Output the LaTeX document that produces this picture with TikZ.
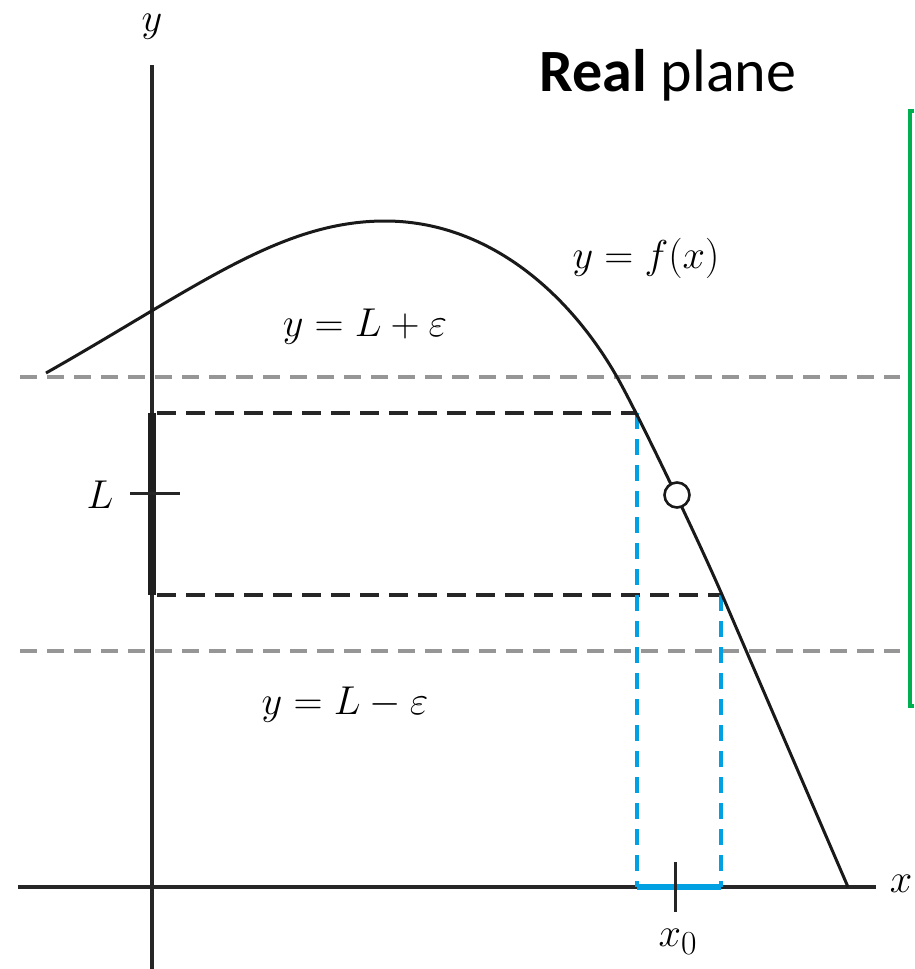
\documentclass[tikz,border=0pt]{standalone}
\usepackage{fontspec}
\newfontfamily\carlito{Carlito}
\definecolor{dgray}{RGB}{150,150,150}
\definecolor{ablue}{RGB}{0,160,227}
\definecolor{bgreen}{RGB}{0,176,80}
\newcommand{\mlab}[1]{\scalebox{1.62}{\Huge #1}}
\tikzset{
  axisline/.style={line width=3.4pt, black!85},
  curveline/.style={line width=3pt, black!90, line join=round},
  graydash/.style={line width=3.4pt, dgray, dash pattern=on 17pt off 10pt},
  blackdash/.style={line width=3.2pt, black!85, dash pattern=on 19pt off 10pt},
  bluedash/.style={line width=3.2pt, ablue, dash pattern=on 16pt off 10pt},
  mathlab/.style={inner sep=0pt},
  tickline/.style={line width=3pt, black!85},
}
\begin{document}
\begin{tikzpicture}[x=1pt,y=-1pt]
\useasboundingbox (0,0) rectangle (914,969);
% coordinates
\coordinate (yb) at (152,969);
\coordinate (yt) at (152,65);
\coordinate (xl) at (18,887);
\coordinate (xr) at (876,887);
\coordinate (gu1) at (20,377);
\coordinate (gu2) at (900,377);
\coordinate (gl1) at (20,651);
\coordinate (gl2) at (900,651);
\coordinate (Ltop) at (152,413);
\coordinate (Lbot) at (152,595);
\coordinate (ptop) at (637,413);
\coordinate (pbot) at (721,595);
\coordinate (atop) at (637,887);
\coordinate (abot) at (721,887);
\coordinate (Lt1) at (130,493);
\coordinate (Lt2) at (180,493);
\coordinate (x0a) at (675,862);
\coordinate (x0b) at (675,912);
\coordinate (gb1) at (914,111);
\coordinate (gb2) at (910,111);
\coordinate (gb3) at (910,706);
\coordinate (gb4) at (914,706);
\coordinate (c0) at (46,373);
\coordinate (c1) at (385,221);
\coordinate (c2) at (617,377);
\coordinate (c3) at (723,597);
\coordinate (c4) at (848,887);

% gray epsilon band lines
\draw[graydash] (gu1) -- (gu2);
\draw[graydash] (gl1) -- (gl2);

% axes
\draw[axisline] (yb) -- (yt);
\draw[axisline] (xl) -- (xr);

% black dashed rectangle sides
\draw[blackdash] ([xshift=5pt]Ltop) -- (ptop);
\draw[blackdash] ([xshift=5pt]Lbot) -- (pbot);

% blue dashed verticals
\draw[bluedash] (ptop) -- (atop);
\draw[bluedash] (pbot) -- (abot);

% blue interval on x axis
\draw[line width=6.5pt, ablue] (atop) -- (abot);

% thick L interval
\draw[line width=8pt, black!88] (Ltop) -- (Lbot);
\draw[tickline] (Lt1) -- (Lt2);
\draw[tickline] (x0a) -- (x0b);

% curve
\draw[curveline] (c0) .. controls (196,288) and (280,221) .. (c1)
  .. controls (485,221) and (567,289.5) .. (c2)
  .. controls (637,412) and (698,539) .. (c3) -- (c4);

% hole
\node[circle, draw=black!90, line width=2.6pt, fill=white, minimum size=25pt, inner sep=0pt] (hole) at (677,495) {};

% labels
\node[mathlab] (ylab) at (152,27) {\mlab{$y$}};
\node[mathlab] (xlab) at (901,884) {\mlab{$x$}};
\node[mathlab] (Llab) at (100,495) {\mlab{$L$}};
\node[mathlab] (x0lab) at (678,942) {\mlab{$x_0$}};
\node[mathlab] (flab) at (646,258) {\mlab{$y=f(x)$}};
\node[mathlab] (uplab) at (365,327) {\mlab{$y=L+\varepsilon$}};
\node[mathlab] (lolab) at (345,705) {\mlab{$y=L-\varepsilon$}};
\node[font=\carlito\fontsize{60}{70}\selectfont, inner sep=0pt] (title) at (668,75) {\textbf{Real} plane};

% green bracket
\draw[line width=3.2pt, bgreen] (gb1) -- (gb2) -- (gb3) -- (gb4);
\end{tikzpicture}
\end{document}
